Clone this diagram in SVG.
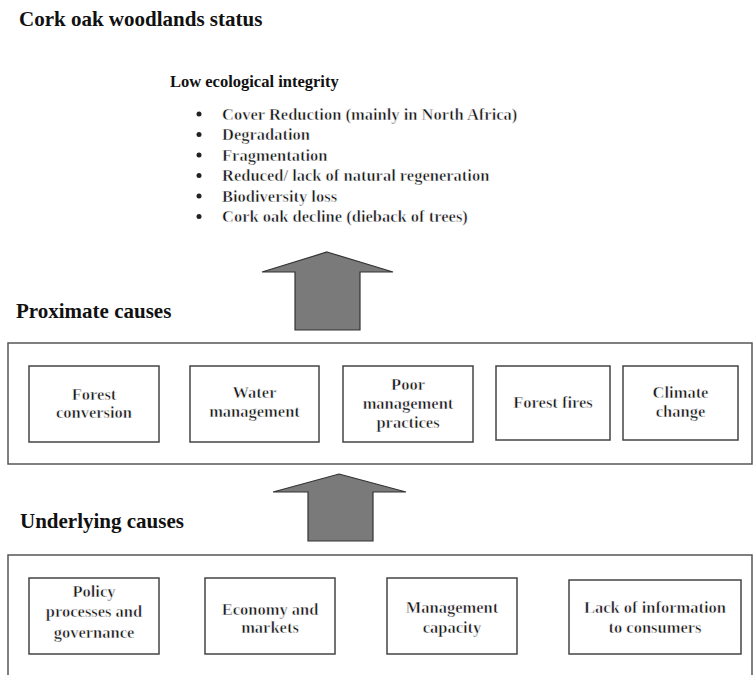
<svg xmlns="http://www.w3.org/2000/svg" width="754" height="675" viewBox="0 0 754 675">
<style>
.h{font-family:'Liberation Serif','DejaVu Serif',serif;font-weight:bold;font-size:21px;fill:#111}
.sub{font-family:'Liberation Serif','DejaVu Serif',serif;font-weight:bold;font-size:16.5px;fill:#111}
.t,.c{font-family:'Liberation Serif','DejaVu Serif',serif;font-weight:bold;font-size:16.5px;fill:#111;stroke:#fff;stroke-width:0.5}
.c{text-anchor:middle}
.box{fill:#fff;stroke:#444;stroke-width:1.5}
.outer{fill:#fff;stroke:#555;stroke-width:1.5}
.arrow{fill:#7a7a7a;stroke:#333;stroke-width:1.2;stroke-linejoin:miter}
</style>
<rect width="754" height="675" fill="#fff"/>
<g id="status">
<text class="h" x="19" y="26">Cork oak woodlands status</text>
<text class="sub" x="170" y="87">Low ecological integrity</text>
<g fill="#222">
<circle cx="199" cy="114" r="2.5"/>
<circle cx="199" cy="134.5" r="2.5"/>
<circle cx="199" cy="155" r="2.5"/>
<circle cx="199" cy="175.5" r="2.5"/>
<circle cx="199" cy="196" r="2.5"/>
<circle cx="199" cy="216.5" r="2.5"/>
</g>
<text class="t" x="222" y="119.5">Cover Reduction (mainly in North Africa)</text>
<text class="t" x="222" y="140">Degradation</text>
<text class="t" x="222" y="160.5">Fragmentation</text>
<text class="t" x="222" y="181">Reduced/ lack of natural regeneration</text>
<text class="t" x="222" y="201.5">Biodiversity loss</text>
<text class="t" x="222" y="222">Cork oak decline (dieback of trees)</text>
</g>
<g id="connectors">
<polygon class="arrow" points="327,252 393,272 360,272 360,330 295,330 295,272 262,272"/>
<polygon class="arrow" points="339,474 406,492 373,492 373,541 308,541 308,492 273,492"/>
</g>
<g id="proximate">
<text class="h" x="16" y="318">Proximate causes</text>
<rect class="outer" x="8" y="343" width="744" height="121"/>
</g>
<g id="forest-conversion">
<rect class="box" x="29" y="366" width="130" height="76"/>
<text class="c" x="94" y="400">Forest</text>
<text class="c" x="94" y="418">conversion</text>
</g>
<g id="water-management">
<rect class="box" x="190" y="366" width="129" height="76"/>
<text class="c" x="254.5" y="398">Water</text>
<text class="c" x="254.5" y="417">management</text>
</g>
<g id="poor-management">
<rect class="box" x="343" y="366" width="130" height="76"/>
<text class="c" x="408" y="390">Poor</text>
<text class="c" x="408" y="409">management</text>
<text class="c" x="408" y="428">practices</text>
</g>
<g id="forest-fires">
<rect class="box" x="496" y="366" width="114" height="74"/>
<text class="c" x="553" y="408">Forest fires</text>
</g>
<g id="climate-change">
<rect class="box" x="623" y="366" width="115" height="74"/>
<text class="c" x="680.5" y="398">Climate</text>
<text class="c" x="680.5" y="417">change</text>
</g>
<g id="underlying">
<text class="h" x="20" y="528">Underlying causes</text>
<rect class="outer" x="8" y="555" width="744" height="130"/>
</g>
<g id="policy">
<rect class="box" x="29" y="578" width="130" height="76"/>
<text class="c" x="94" y="597">Policy</text>
<text class="c" x="94" y="617">processes and</text>
<text class="c" x="94" y="638">governance</text>
</g>
<g id="economy">
<rect class="box" x="205" y="578" width="130" height="76"/>
<text class="c" x="270" y="615">Economy and</text>
<text class="c" x="270" y="633">markets</text>
</g>
<g id="management-capacity">
<rect class="box" x="387" y="578" width="130" height="76"/>
<text class="c" x="452" y="613">Management</text>
<text class="c" x="452" y="633">capacity</text>
</g>
<g id="lack-information">
<rect class="box" x="569" y="580" width="172" height="74"/>
<text class="c" x="655" y="613">Lack of information</text>
<text class="c" x="655" y="633">to consumers</text>
</g>
</svg>
